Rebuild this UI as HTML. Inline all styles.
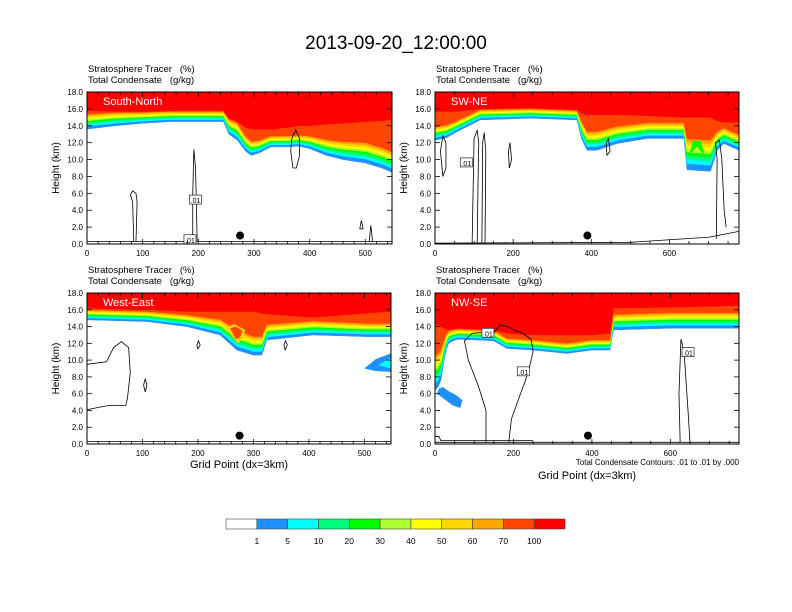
<!DOCTYPE html>
<html><head><meta charset="utf-8"><style>
html,body{margin:0;padding:0;background:#fff}
svg{display:block;font-family:"Liberation Sans",sans-serif}
</style></head><body>
<svg id="chart" width="792" height="612" viewBox="0 0 792 612" xmlns="http://www.w3.org/2000/svg">
<text x="396" y="49" font-size="19" text-anchor="middle">2013-09-20_12:00:00</text>
<text x="739" y="465" font-size="8" text-anchor="end">Total Condensate Contours: .01 to .01 by .000</text>
<g id="panels"></g>
<g id="colorbar"></g>
</svg>
<script>
// ---- data ----
const levelColors=["#1e90ff","#00ffff","#00ff7f","#00ff00","#adff2f","#ffff00","#ffd700","#ffa500","#ff4500"];
const levelFrac=[0,0.18,0.3,0.42,0.52,0.62,0.72,0.82,0.92];
const cbColors=["#ffffff","#1e90ff","#00ffff","#00ff7f","#00ff00","#adff2f","#ffff00","#ffd700","#ffa500","#ff4500","#ff0000"];
const cbLabels=["1","5","10","20","30","40","50","60","70","100"];
const yTicks=[0,2,4,6,8,10,12,14,16,18];

const p1X=[0,50,100,150,200,245,255,270,285,295,310,330,360,380,400,430,460,500,530,548];
const p1Base=[13.6,14.0,14.3,14.5,14.5,14.5,13.0,12.3,11.0,10.5,10.8,11.5,11.5,11.6,11.3,10.5,10.0,9.6,9.0,8.5];
const p1Width=[1.9,1.7,1.4,1.3,1.3,1.3,1.9,2.2,1.9,1.8,1.6,1.4,1.4,1.4,1.6,2.0,2.3,2.6,2.6,2.6];
const p1Red=[15.8,15.6,15.5,15.4,15.4,15.3,14.8,14.2,13.8,13.6,13.6,13.6,13.8,14.0,14.0,14.2,14.3,14.5,14.6,14.8];

const p2X=[0,30,56,116,244,363,375,389,414,466,543,637,645,705,722,739,778];
const p2Base=[12.3,12.6,13.3,14.7,14.9,14.7,12.5,11.1,11.1,11.9,12.5,12.5,8.8,8.6,11.1,11.9,11.1];
const p2Width=[1.7,1.6,1.4,1.3,1.2,1.2,2.2,2.4,2.4,2.2,2.0,2.0,4.0,4.0,2.4,2.0,2.0];
const p2Red=[15.7,15.7,15.7,15.7,15.7,15.6,15.5,15.3,15.3,15.3,15.2,15.0,15.0,15.0,14.6,14.4,14.4];

const p3X=[0,108,180,216,240,270,300,315,324,408,504,548];
const p3Base=[14.8,14.6,14.0,13.4,13.0,11.2,10.6,10.6,12.4,13.0,12.8,12.8];
const p3Width=[1.3,1.3,1.5,1.8,2.0,2.6,2.4,2.4,2.0,1.8,1.7,1.7];
const p3Red=[16.2,16.0,15.8,15.8,15.8,15.8,15.8,15.6,15.5,15.1,15.6,15.8];

const p4X=[0,8,15,20,25,30,35,45,60,150,183,250,336,400,446,455,600,775];
const p4Base=[6.4,6.8,7.6,9.0,10.5,11.4,12.0,12.3,12.5,12.3,11.4,11.2,10.8,11.2,11.2,13.6,13.8,13.8];
const p4Width=[4.5,4.3,4.0,3.2,2.4,1.9,1.6,1.4,1.3,1.3,1.3,1.3,1.3,1.3,1.3,2.0,2.0,2.0];
const p4Red=[14.3,14.2,14.0,13.9,13.8,13.7,13.6,13.6,13.6,13.5,13.2,13.0,13.0,13.0,13.2,16.2,16.3,16.5];

const p1Contours=[[[370,9],[366,11],[368,12.5],[375,13.5],[382,12.5],[382,10.5],[376,9],[370,9]],
 [[190,0.3],[190,6],[192,11.2],[195,9],[197,3],[198,0.3]],
 [[84,0.3],[82,5],[78,5.8],[82,6.3],[88,6],[90,5],[88,0.3]],
 [[0,0.3],[548,0.3]],[[490,1.8],[493,2.8],[496,1.8],[490,1.8]],[[507,0.3],[510,2.2],[513,0.3]]];
const p2Contours=[[[20,8],[14,11],[20,12.8],[28,12],[28,9],[20,8]],
 [[95,0],[100,12.5],[108,13.5],[112,12],[110,7],[108,0]],
 [[120,0],[122,12],[126,13.2],[130,11],[128,0]],
 [[190,9],[188,11],[192,12],[196,10],[190,9]],
 [[440,10.5],[438,12],[444,12.5],[448,11],[440,10.5]],
 [[720,0.6],[722,10],[718,12],[728,12.3],[734,10],[740,4],[745,2]],
 [[0,0.1],[500,0.2],[600,0.5],[700,0.8],[778,1.5]]];
const p3Contours=[[[0,9.5],[35,9.8],[48,11.5],[62,12.2],[75,11.5],[78,8.5],[73,5.5],[70,4.6],[40,4.6],[0,4.1]],
 [[200,11.3],[198,11.8],[201,12.3],[204,11.8],[200,11.3]],
 [[357,11.2],[355,11.8],[358,12.3],[361,11.8],[357,11.2]],
 [[105,6.2],[102,7],[105,7.8],[108,7],[105,6.2]],
 [[0,0.3],[548,0.3]]];
const p4Contours=[[[130,0.2],[130,4],[110,7],[85,10],[75,12.3],[95,13.2],[125,13.3],[150,13.2],[165,14.2],[185,14],[205,13.5],[220,13.3],[245,12.5],[250,11],[240,9],[230,7.5],[218,6],[195,3],[188,0.2]],
 [[625,0.2],[622,6],[627,12.5],[635,11],[645,4],[650,0.2]],
 [[0,0.9],[10,0.9],[15,0.4],[250,0.4]],[[0,0.2],[775,0.2]]];

const p3Blobs=[{c:"#1e90ff",pts:[[500,9.0],[520,10.1],[548,10.8],[548,8.6],[520,8.7]]},{c:"#00ffff",pts:[[525,9.4],[548,10.3],[548,9.0]]},
 {c:"#ffd700",pts:[[250,13.8],[265,14.3],[285,13.6],[282,12.6],[272,12.0],[262,12.8]]},
 {c:"#ff4500",pts:[[258,13.8],[268,14.0],[280,13.5],[276,12.7],[268,12.5]]}];
const p4Blobs=[{c:"#1e90ff",pts:[[10,6.6],[20,6.8],[35,6.3],[55,5.8],[70,5.2],[64,4.3],[45,4.6],[25,5.3],[5,6.0]]}];
const p2Blobs=[{c:"#00ff00",pts:[[650,10.5],[670,11.5],[690,10.5],[680,12.2],[660,12.2]]}];

const panels=[
 {id:"south-north",label:"South-North",x0:87,y0:92,w:305,h:152,xmax:548,xt:[0,100,200,300,400,500],minor:20,X:p1X,B:p1Base,W:p1Width,R:p1Red,C:p1Contours,blobs:[],dot:275,lab:[[195,5.2],[185,0.5]],hy:72},
 {id:"sw-ne",label:"SW-NE",x0:435,y0:92,w:304,h:152,xmax:778,xt:[0,200,400,600],minor:50,X:p2X,B:p2Base,W:p2Width,R:p2Red,C:p2Contours,blobs:p2Blobs,dot:390,lab:[[80,9.6]],hy:72},
 {id:"west-east",label:"West-East",x0:87,y0:293,w:304,h:151,xmax:548,xt:[0,100,200,300,400,500],minor:20,X:p3X,B:p3Base,W:p3Width,R:p3Red,C:p3Contours,blobs:p3Blobs,dot:275,lab:[],hy:273,xtitle:true},
 {id:"nw-se",label:"NW-SE",x0:435,y0:293,w:304,h:151,xmax:775,xt:[0,200,400,600],minor:50,X:p4X,B:p4Base,W:p4Width,R:p4Red,C:p4Contours,blobs:p4Blobs,dot:390,lab:[[135,13.2],[225,8.6],[645,10.9]],hy:273,xtitle:true,xtY:479}
];
const NS="http://www.w3.org/2000/svg";
function mk(tag,attrs,parent){const e=document.createElementNS(NS,tag);for(const k in attrs)e.setAttribute(k,attrs[k]);if(parent)parent.appendChild(e);return e;}
const root=document.getElementById("panels");
panels.forEach(function(p,pi){
 const sx=v=>p.x0+v/p.xmax*p.w, sy=k=>p.y0+p.h-k/18*p.h;
 const g=mk("g",{},root);
 
 
 const cp=mk("clipPath",{id:"clip"+pi},g);mk("rect",{x:p.x0,y:p.y0,width:p.w,height:p.h},cp);
 const fg=mk("g",{"clip-path":"url(#clip"+pi+")"},g);
 function poly(vals,color,name){
  let pts=p.X.map((x,i)=>sx(x)+","+sy(vals[i])).join(" ");
  pts+=" "+sx(p.xmax)+","+sy(18)+" "+sx(0)+","+sy(18);
  const e=mk("polygon",{points:pts,fill:color,stroke:color,"stroke-width":0.5,"stroke-linejoin":"round"},fg);
  
  
 }
 levelColors.forEach(function(c,k){
  poly(p.B.map((b,i)=>b+levelFrac[k]*p.W[i]),c,'tracer-level-'+k);
 });
 poly(p.R.map((r,i)=>Math.max(r,p.B[i]+p.W[i])),"#ff0000",'tracer-level-red');
 p.blobs.forEach(function(b){
  const e=mk("polygon",{points:b.pts.map(q=>sx(q[0])+","+sy(q[1])).join(" "),fill:b.c},fg);
  
  
 });
 p.C.forEach(function(c){
  const e=mk("polyline",{points:c.map(q=>sx(q[0])+","+sy(q[1])).join(" "),fill:"none",stroke:"#000","stroke-width":0.8},fg);
  
  
 });
 p.lab.forEach(function(l){
  const lg=mk("g",{},fg);
  
  
  mk("rect",{x:sx(l[0])-6,y:sy(l[1])-5,width:12,height:9,fill:"#fff",stroke:"#000","stroke-width":0.6},lg);
  const t=mk("text",{x:sx(l[0]),y:sy(l[1])+3,"font-size":7,"text-anchor":"middle"},lg);t.textContent=".01";
 });
 const dot=mk("circle",{cx:sx(p.dot),cy:sy(1.0),r:4,fill:"#000"},g);
 
 
 const lt=mk("text",{x:p.x0+16,y:p.y0+13,"font-size":11,fill:"#fff"},g);lt.textContent=p.label;
 
 
 const fr=mk("rect",{x:p.x0,y:p.y0,width:p.w,height:p.h,fill:"none",stroke:"#000","stroke-width":1},g);
 
 
 yTicks.forEach(function(k){
  const y=sy(k);
  mk("line",{x1:p.x0,x2:p.x0+5,y1:y,y2:y,stroke:"#000","stroke-width":0.8},g);
  mk("line",{x1:p.x0+p.w,x2:p.x0+p.w-5,y1:y,y2:y,stroke:"#000","stroke-width":0.8},g);
  const t=mk("text",{x:p.x0-4,y:y+3,"font-size":8,"text-anchor":"end"},g);t.textContent=k.toFixed(1);
  
  
 });
 for(let v=0;v<=p.xmax;v+=p.minor){
  const x=sx(v),maj=p.xt.indexOf(v)>=0,L=maj?5:3;
  mk("line",{x1:x,x2:x,y1:p.y0+p.h,y2:p.y0+p.h-L,stroke:"#000","stroke-width":0.8},g);
  mk("line",{x1:x,x2:x,y1:p.y0,y2:p.y0+L,stroke:"#000","stroke-width":0.8},g);
 }
 p.xt.forEach(function(v){
  const t=mk("text",{x:sx(v),y:p.y0+p.h+12,"font-size":8,"text-anchor":"middle"},g);t.textContent=v;
  
  
 });
 const yl=mk("text",{x:0,y:0,"font-size":10,"text-anchor":"middle",transform:"translate("+(p.x0-28)+","+(p.y0+p.h/2)+") rotate(-90)"},g);yl.textContent="Height (km)";
 
 
 const h1=mk("text",{x:p.x0+1,y:p.hy,"font-size":9.5},g);h1.textContent="Stratosphere Tracer   (%)";
 
 
 h1.style.whiteSpace="pre";
 const h2=mk("text",{x:p.x0+1,y:p.hy+11,"font-size":9.5},g);h2.textContent="Total Condensate   (g/kg)";
 
 
 h2.style.whiteSpace="pre";
 if(p.xtitle){
  const xt=mk("text",{x:p.x0+p.w/2,y:p.xtY||468,"font-size":11,"text-anchor":"middle"},g);xt.textContent="Grid Point (dx=3km)";
  
  
 }
});
const cb=document.getElementById("colorbar");
const cbX=226,cbW=339,cbY=519,cbH=10,bw=cbW/cbColors.length;
cbColors.forEach(function(c,i){
 const r=mk("rect",{x:cbX+i*bw,y:cbY,width:bw,height:cbH,fill:c,stroke:"#444","stroke-width":0.6},cb);
 
 
});
cbLabels.forEach(function(l,i){
 const t=mk("text",{x:cbX+(i+1)*bw,y:cbY+cbH+15,"font-size":8.5,"text-anchor":"middle"},cb);t.textContent=l;
 
 
});
</script>
</body></html>
